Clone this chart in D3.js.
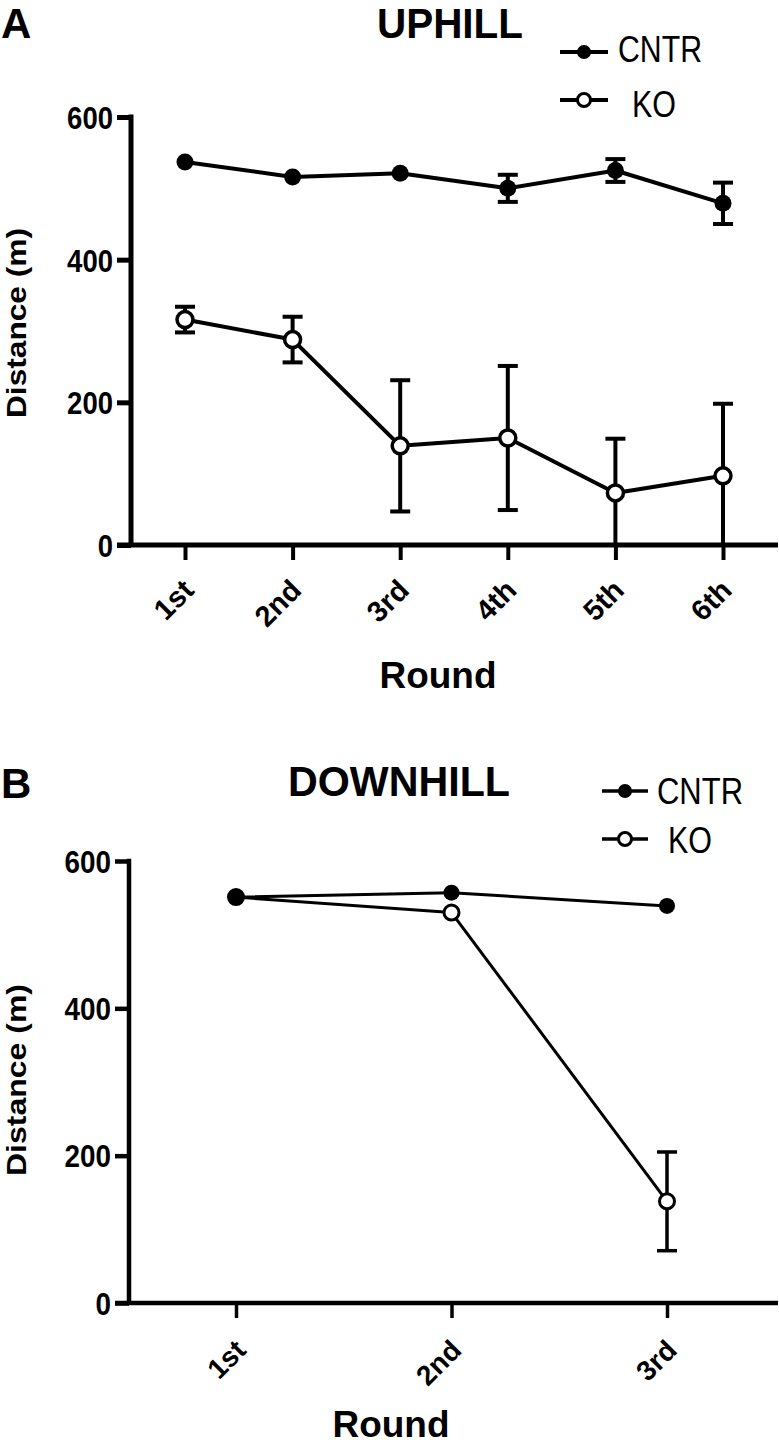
<!DOCTYPE html>
<html>
<head>
<meta charset="utf-8">
<script src="https://cdn.jsdelivr.net/npm/d3@7"></script>
<style>
  html, body { margin: 0; padding: 0; background: #fff; }
  svg { display: block; }
  text { font-family: "Liberation Sans", Arial, Helvetica, sans-serif; fill: #000; }
</style>
</head>
<body>
<svg id="chart" width="779" height="1445"></svg>
<script>
// ---------- data ----------
const roundsA = ["1st", "2nd", "3rd", "4th", "5th", "6th"];
const cntrUp = [537, 516, 521, 500, 525, 479];
const cntrUpErr = [4, 4, 4, 19, 16, 29];
const koUp = [316, 288, 139, 150, 73, 97];
const koUpErr = [18, 32, 92, 101, 76, 101];

const roundsB = ["1st", "2nd", "3rd"];
const cntrDown = [551, 557, 539];
const cntrDownErr = [3, 3, 3];
const koDown = [551, 530, 138];
const koDownErr = [3, 3, 67];

const yTicks = [0, 200, 400, 600];
const seriesNames = ["CNTR", "KO"];

// ---------- drawing ----------
const svg = d3.select("#chart");

function panel(cfg) {
  const g = svg.append("g");
  const x = d3.scalePoint().domain(cfg.cats).range(cfg.xRange);
  const y = d3.scaleLinear().domain([0, 600]).range(cfg.yRange);

  // axes via d3 axis generators
  const yAx = g.append("g")
    .attr("transform", `translate(${cfg.axisX},0)`)
    .call(d3.axisLeft(y).tickValues(yTicks).tickSize(cfg.axisX - cfg.xAxisStart).tickSizeOuter(0).tickPadding(4));
  yAx.select(".domain").remove();
  yAx.selectAll(".tick line").attr("stroke", "#000").attr("stroke-width", cfg.axisW);
  yAx.selectAll(".tick text")
    .style("font-size", cfg.yTickFont + "px").style("font-weight", "bold")
    .attr("dy", "0.36em").attr("fill", "#000")
    .each(function () {
      const t = d3.select(this);
      t.attr("textLength", t.text().length * cfg.digitW).attr("lengthAdjust", "spacingAndGlyphs");
    });

  const xAx = g.append("g")
    .attr("transform", `translate(0,${cfg.yRange[0]})`)
    .call(d3.axisBottom(x).tickSize(15).tickSizeOuter(0));
  xAx.select(".domain").remove();
  xAx.selectAll(".tick line").attr("stroke", "#000").attr("stroke-width", cfg.axisW - 1);
  xAx.selectAll(".tick text")
    .attr("x", 0).attr("y", 0).attr("dy", 0)
    .attr("transform", `translate(${cfg.lblDx},${cfg.lblDy}) rotate(-45)`)
    .style("text-anchor", "end")
    .style("font-size", cfg.xTickFont + "px").style("font-weight", "bold")
    .attr("fill", "#000");

  // axis lines
  g.append("line")
    .attr("x1", cfg.xAxisStart).attr("x2", 778)
    .attr("y1", y(0)).attr("y2", y(0))
    .attr("stroke", "#000").attr("stroke-width", cfg.axisW);
  g.append("line")
    .attr("x1", cfg.axisX).attr("x2", cfg.axisX)
    .attr("y1", y(600) - cfg.axisW / 2).attr("y2", y(0))
    .attr("stroke", "#000").attr("stroke-width", cfg.axisW);

  const line = d3.line().x(d => x(d.c)).y(d => y(d.v));
  const mk = (cats, vals, errs) => cats.map((c, i) => ({ c, v: vals[i], e: errs[i] }));

  const series = [
    { data: mk(cfg.cats, cfg.cntr, cfg.cntrErr), filled: true },
    { data: mk(cfg.cats, cfg.ko, cfg.koErr), filled: false }
  ];

  // error bars
  series.forEach(s => {
    s.data.forEach(d => {
      const top = y(d.v + d.e);
      const lowV = Math.max(0, d.v - d.e);
      const bot = y(lowV);
      if (y(d.v) - top <= cfg.r + 1) return;
      g.append("line").attr("x1", x(d.c)).attr("x2", x(d.c))
        .attr("y1", top).attr("y2", bot)
        .attr("stroke", "#000").attr("stroke-width", cfg.errW);
      g.append("line").attr("x1", x(d.c) - 10).attr("x2", x(d.c) + 10)
        .attr("y1", top).attr("y2", top)
        .attr("stroke", "#000").attr("stroke-width", cfg.errW);
      if (lowV > 0) {
        g.append("line").attr("x1", x(d.c) - 10).attr("x2", x(d.c) + 10)
          .attr("y1", bot).attr("y2", bot)
          .attr("stroke", "#000").attr("stroke-width", cfg.errW);
      }
    });
  });

  // lines
  series.forEach(s => {
    g.append("path").datum(s.data).attr("d", line)
      .attr("fill", "none").attr("stroke", "#000").attr("stroke-width", cfg.lineW)
      .attr("stroke-linejoin", "round");
  });

  // markers (KO first, CNTR on top)
  [series[1], series[0]].forEach(s => {
    g.selectAll(null).data(s.data).enter().append("circle")
      .attr("cx", d => x(d.c)).attr("cy", d => y(d.v))
      .attr("r", s.filled ? cfg.r : cfg.r - 0.5)
      .attr("fill", s.filled ? "#000" : "#fff")
      .attr("stroke", "#000").attr("stroke-width", s.filled ? 0 : cfg.openW);
  });

  // panel letter & title
  g.append("text").attr("x", 1).attr("y", cfg.letterY).text(cfg.letter)
    .style("font-size", "42px").style("font-weight", "bold");
  g.append("text").attr("x", cfg.titleX).attr("y", cfg.titleY).text(cfg.title)
    .attr("text-anchor", "middle").attr("textLength", cfg.titleLen).attr("lengthAdjust", "spacingAndGlyphs")
    .style("font-size", "42px").style("font-weight", "bold");

  // legend
  cfg.legend.forEach((L, i) => {
    g.append("line").attr("x1", L.x1).attr("x2", L.x2).attr("y1", L.y).attr("y2", L.y)
      .attr("stroke", "#000").attr("stroke-width", cfg.legW);
    g.append("circle").attr("cx", (L.x1 + L.x2) / 2).attr("cy", L.y).attr("r", i === 0 ? 7 : 6.5)
      .attr("fill", i === 0 ? "#000" : "#fff").attr("stroke", "#000").attr("stroke-width", i === 0 ? 0 : 3);
    g.append("text").attr("x", L.tx).attr("y", L.ty).text(seriesNames[i])
      .attr("textLength", L.tl).attr("lengthAdjust", "spacingAndGlyphs")
      .style("font-size", "37px");
  });

  // axis titles
  g.append("text")
    .attr("transform", `translate(${cfg.yTitleX},${cfg.yTitleY}) rotate(-90)`)
    .attr("text-anchor", "middle").attr("textLength", cfg.yTitleLen).attr("lengthAdjust", "spacingAndGlyphs")
    .text("Distance (m)")
    .style("font-size", "28px").style("font-weight", "bold");
  g.append("text").attr("x", cfg.xTitleX).attr("y", cfg.xTitleY)
    .attr("text-anchor", "middle").attr("textLength", 117).attr("lengthAdjust", "spacingAndGlyphs")
    .text("Round")
    .style("font-size", "36px").style("font-weight", "bold");
}

panel({
  cats: roundsA, cntr: cntrUp, cntrErr: cntrUpErr, ko: koUp, koErr: koUpErr,
  xRange: [185, 723], yRange: [545, 117], axisX: 131, xAxisStart: 117,
  axisW: 5, lineW: 4, errW: 4, r: 8.5, openW: 3.5,
  yTickFont: 32, digitW: 15.3, xTickFont: 29, lblDx: 10, lblDy: 47,
  letter: "A", letterY: 38, title: "UPHILL", titleX: 450, titleY: 38, titleLen: 146,
  legW: 4,
  legend: [
    { x1: 560, x2: 608, y: 52, tx: 618, ty: 62, tl: 84 },
    { x1: 560, x2: 608, y: 100, tx: 632, ty: 117, tl: 44 }
  ],
  yTitleX: 26, yTitleY: 323, yTitleLen: 190,
  xTitleX: 438, xTitleY: 688
});

panel({
  cats: roundsB, cntr: cntrDown, cntrErr: cntrDownErr, ko: koDown, koErr: koDownErr,
  xRange: [236, 667], yRange: [1303, 861], axisX: 129, xAxisStart: 115,
  axisW: 4.5, lineW: 3, errW: 3.5, r: 8, openW: 3,
  yTickFont: 31, digitW: 15.5, xTickFont: 28, lblDx: 11, lblDy: 49,
  letter: "B", letterY: 798, title: "DOWNHILL", titleX: 399, titleY: 796, titleLen: 222,
  legW: 3.5,
  legend: [
    { x1: 602, x2: 648, y: 791, tx: 657, ty: 804, tl: 86 },
    { x1: 602, x2: 648, y: 839, tx: 668, ty: 853, tl: 44 }
  ],
  yTitleX: 26, yTitleY: 1080, yTitleLen: 192,
  xTitleX: 391, xTitleY: 1437
});
</script>
</body>
</html>
